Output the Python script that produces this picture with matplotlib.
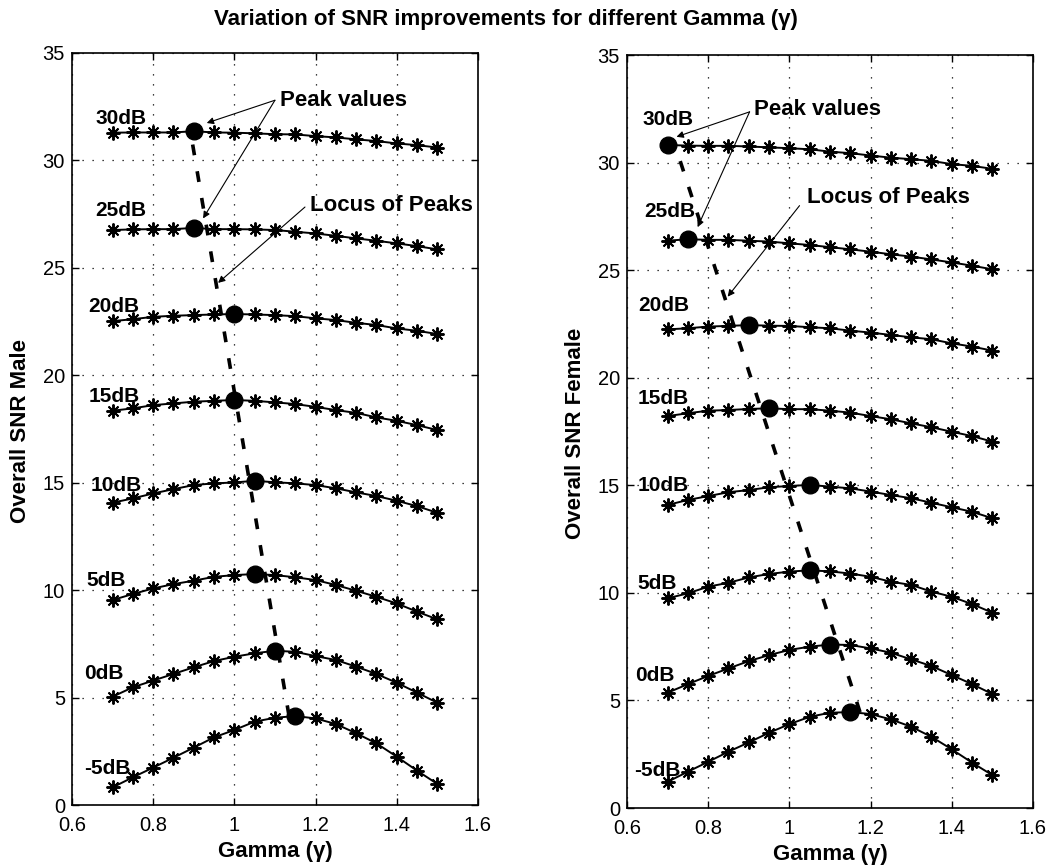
import numpy as np
import matplotlib.pyplot as plt

plt.rcParams['font.family'] = ['Liberation Sans', 'DejaVu Sans']

# gamma values swept
gamma = [0.70, 0.75, 0.80, 0.85, 0.90, 0.95, 1.00, 1.05, 1.10,
         1.15, 1.20, 1.25, 1.30, 1.35, 1.40, 1.45, 1.50]

snr_in = ['-5dB', '0dB', '5dB', '10dB', '15dB', '20dB', '25dB', '30dB']

# overall SNR, male speaker
male_m5 = [0.82, 1.29, 1.74, 2.20, 2.67, 3.15, 3.49, 3.88, 4.06, 4.14, 4.03, 3.77, 3.34, 2.87, 2.25, 1.60, 0.98]
male_0 = [5.04, 5.48, 5.79, 6.10, 6.41, 6.70, 6.90, 7.06, 7.18, 7.13, 6.93, 6.75, 6.44, 6.10, 5.69, 5.23, 4.76]
male_5 = [9.54, 9.82, 10.08, 10.28, 10.44, 10.62, 10.70, 10.75, 10.70, 10.60, 10.47, 10.24, 9.97, 9.69, 9.38, 9.00, 8.64]
male_10 = [14.07, 14.27, 14.50, 14.70, 14.89, 14.97, 15.01, 15.09, 15.02, 14.97, 14.89, 14.74, 14.55, 14.38, 14.16, 13.91, 13.60]
male_15 = [18.35, 18.46, 18.61, 18.69, 18.77, 18.81, 18.85, 18.81, 18.74, 18.66, 18.53, 18.38, 18.25, 18.04, 17.88, 17.68, 17.45]
male_20 = [22.52, 22.61, 22.72, 22.77, 22.80, 22.83, 22.85, 22.83, 22.80, 22.75, 22.65, 22.57, 22.44, 22.34, 22.18, 22.07, 21.92]
male_25 = [26.76, 26.79, 26.80, 26.80, 26.86, 26.80, 26.80, 26.79, 26.76, 26.68, 26.60, 26.49, 26.37, 26.26, 26.14, 26.01, 25.86]
male_30 = [31.29, 31.30, 31.30, 31.30, 31.36, 31.30, 31.29, 31.26, 31.22, 31.21, 31.13, 31.07, 30.98, 30.90, 30.79, 30.71, 30.60]

# overall SNR, female speaker
female_m5 = [1.22, 1.69, 2.15, 2.62, 3.05, 3.50, 3.90, 4.24, 4.43, 4.46, 4.37, 4.12, 3.78, 3.31, 2.73, 2.11, 1.53]
female_0 = [5.36, 5.76, 6.14, 6.49, 6.83, 7.11, 7.35, 7.50, 7.60, 7.58, 7.42, 7.22, 6.91, 6.60, 6.18, 5.76, 5.30]
female_5 = [9.75, 9.98, 10.29, 10.47, 10.72, 10.88, 10.99, 11.05, 11.00, 10.90, 10.75, 10.52, 10.37, 10.06, 9.82, 9.48, 9.08]
female_10 = [14.09, 14.32, 14.50, 14.68, 14.78, 14.91, 14.97, 15.02, 14.94, 14.86, 14.71, 14.55, 14.40, 14.19, 13.98, 13.77, 13.47]
female_15 = [18.22, 18.35, 18.47, 18.50, 18.55, 18.58, 18.54, 18.54, 18.47, 18.38, 18.22, 18.07, 17.88, 17.70, 17.49, 17.29, 17.03]
female_20 = [22.25, 22.30, 22.38, 22.41, 22.45, 22.42, 22.41, 22.35, 22.30, 22.19, 22.10, 21.99, 21.88, 21.79, 21.60, 21.45, 21.26]
female_25 = [26.37, 26.44, 26.41, 26.41, 26.37, 26.33, 26.25, 26.17, 26.07, 25.97, 25.86, 25.74, 25.63, 25.50, 25.36, 25.21, 25.04]
female_30 = [30.82, 30.79, 30.78, 30.78, 30.75, 30.71, 30.67, 30.62, 30.51, 30.44, 30.33, 30.23, 30.16, 30.08, 29.93, 29.85, 29.71]

male = [male_m5, male_0, male_5, male_10, male_15, male_20, male_25, male_30]
female = [female_m5, female_0, female_5, female_10, female_15, female_20, female_25, female_30]

# where the curve labels sit (gamma, snr)
male_lbl = [(0.630, 1.71), (0.630, 6.13), (0.635, 10.44), (0.645, 14.85),
            (0.640, 19.0), (0.640, 23.22), (0.657, 27.69), (0.657, 31.97)]
female_lbl = [(0.617, 1.73), (0.620, 6.18), (0.625, 10.46), (0.627, 14.97),
              (0.627, 19.05), (0.627, 23.34), (0.643, 27.75), (0.639, 32.02)]

fs_tick = 14.5
fs_lab = 16
fs_db = 15
star = (8, 2, 0)

fig = plt.figure(figsize=(10.55, 8.67), dpi=100)
ax1 = fig.add_axes([0.0682, 0.0715, 0.3848, 0.8674])
ax2 = fig.add_axes([0.5943, 0.0680, 0.3848, 0.8685])


def draw(ax, curves, labels, ylab):
    px, py = [], []
    for y, name, pos in zip(curves, snr_in, labels):
        ax.plot(gamma, y, color='k', lw=1.4, marker=star, ms=10, mew=1.4)
        i = int(np.argmax(y))
        px.append(gamma[i])
        py.append(y[i])
        ax.text(pos[0], pos[1], name, fontsize=fs_db, fontweight='bold',
                ha='left', va='center')
    # locus of peaks: straight-line fit of peak gamma against SNR
    k, b = np.polyfit(py, px, 1)
    ys = np.array([min(py), max(py)])
    ax.plot(k * ys + b, ys, color='k', lw=2.6, ls=(0, (3, 4.5)))
    ax.plot(px, py, 'o', color='k', ms=12, ls='none')

    ax.set_xlim(0.6, 1.6)
    ax.set_ylim(0, 35)
    ax.set_xticks([0.6, 0.8, 1.0, 1.2, 1.4, 1.6])
    ax.set_xticklabels(['0.6', '0.8', '1', '1.2', '1.4', '1.6'])
    ax.set_yticks(range(0, 36, 5))
    ax.grid(True, color='k', ls=(0, (1, 7)), lw=0.9)
    ax.tick_params(direction='in', top=True, right=True, length=5,
                   labelsize=fs_tick, width=1)
    ax.tick_params(axis='x', pad=8)
    ax.tick_params(axis='y', pad=5)
    for s in ax.spines.values():
        s.set_linewidth(1.2)
    ax.set_xlabel('Gamma (γ)', fontsize=fs_lab, fontweight='bold')
    ax.set_ylabel(ylab, fontsize=fs_lab, fontweight='bold')
    ax.xaxis.set_label_coords(0.5, -0.048)
    ax.yaxis.set_label_coords(-0.10, 0.497)


draw(ax1, male, male_lbl, 'Overall SNR Male')
draw(ax2, female, female_lbl, 'Overall SNR Female')

arr = dict(arrowstyle='-|>', color='k', lw=0.8, mutation_scale=10,
           shrinkA=0, shrinkB=0)

# annotations, male
ax1.text(1.112, 32.8, 'Peak values', fontsize=fs_lab, fontweight='bold', va='center')
ax1.annotate('', xy=(0.932, 31.74), xytext=(1.10, 32.8), arrowprops=arr)
ax1.annotate('', xy=(0.923, 27.3), xytext=(1.10, 32.8), arrowprops=arr)
ax1.text(1.186, 27.9, 'Locus of Peaks', fontsize=fs_lab, fontweight='bold', va='center')
ax1.annotate('', xy=(0.96, 24.3), xytext=(1.174, 27.83), arrowprops=arr)

# annotations, female
ax2.text(0.914, 32.45, 'Peak values', fontsize=fs_lab, fontweight='bold', va='center')
ax2.annotate('', xy=(0.722, 31.2), xytext=(0.902, 32.36), arrowprops=arr)
ax2.annotate('', xy=(0.774, 27.0), xytext=(0.902, 32.36), arrowprops=arr)
ax2.text(1.044, 28.36, 'Locus of Peaks', fontsize=fs_lab, fontweight='bold', va='center')
ax2.annotate('', xy=(0.848, 23.77), xytext=(1.025, 28.0), arrowprops=arr)

fig.text(0.48, 0.977, 'Variation of SNR improvements for different Gamma (γ)',
         fontsize=fs_lab, fontweight='bold', ha='center', va='center')

fig.savefig('out.png', dpi=100)
